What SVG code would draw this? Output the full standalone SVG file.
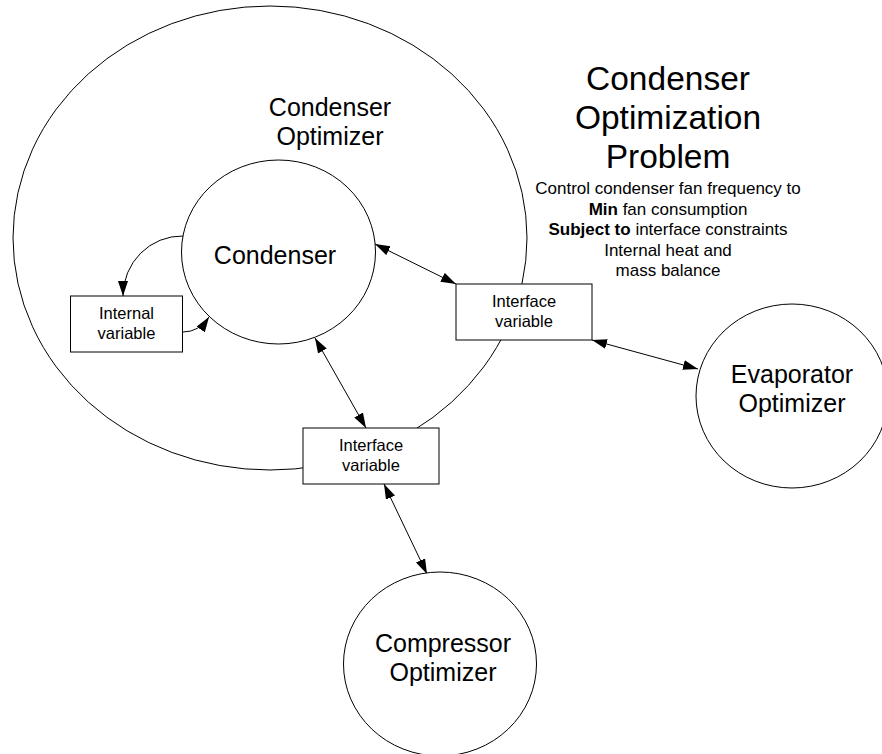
<svg xmlns="http://www.w3.org/2000/svg" width="882" height="754" viewBox="0 0 882 754">
  <style>
    .shape { fill: #fff; stroke: #000; stroke-width: 1; }
    .outline { fill: none; stroke: #000; stroke-width: 1; }
    .link { fill: none; stroke: #000; stroke-width: 1; }
    .big { font-family: "Liberation Sans", Arial, sans-serif; font-size: 25px; fill: #000; text-anchor: middle; }
    .title { font-family: "Liberation Sans", Arial, sans-serif; font-size: 33.5px; fill: #000; text-anchor: middle; }
    .note { font-family: "Liberation Sans", Arial, sans-serif; font-size: 17px; fill: #000; text-anchor: middle; }
    .box { font-family: "Liberation Sans", Arial, sans-serif; font-size: 16.5px; fill: #000; text-anchor: middle; }
    .b { font-weight: bold; }
  </style>
  <defs>
    <marker id="arrow" markerUnits="userSpaceOnUse" markerWidth="16" markerHeight="11" refX="15" refY="5" orient="auto-start-reverse">
      <path d="M0,0 L15,5 L0,10 Z" fill="#000"/>
    </marker>
  </defs>

  <rect width="882" height="754" fill="#fff"/>

  <!-- Condenser optimizer boundary -->
  <g id="condenser-optimizer">
    <ellipse class="outline" cx="270" cy="238" rx="257" ry="232"/>
    <text class="big" x="330" y="116">Condenser</text>
    <text class="big" x="330" y="145">Optimizer</text>
  </g>

  <!-- Connectors -->
  <g id="connectors">
    <path class="link" d="M183,236 A59,60 0 0 0 123,296" marker-end="url(#arrow)"/>
    <path class="link" d="M183,332 Q199,332 209,317" marker-end="url(#arrow)"/>
    <line class="link" x1="375" y1="244" x2="456" y2="284" marker-start="url(#arrow)" marker-end="url(#arrow)"/>
    <line class="link" x1="592" y1="340" x2="698" y2="369" marker-start="url(#arrow)" marker-end="url(#arrow)"/>
    <line class="link" x1="315" y1="338" x2="366" y2="428" marker-start="url(#arrow)" marker-end="url(#arrow)"/>
    <line class="link" x1="384" y1="484" x2="427" y2="574" marker-start="url(#arrow)" marker-end="url(#arrow)"/>
  </g>

  <g id="condenser">
    <ellipse class="outline" cx="278.5" cy="252" rx="97" ry="92"/>
    <text class="big" x="275" y="264">Condenser</text>
  </g>

  <g id="internal-variable">
    <rect class="shape" x="70.5" y="296" width="112" height="56"/>
    <text class="box" x="126.5" y="319">Internal</text>
    <text class="box" x="126.5" y="339">variable</text>
  </g>

  <g id="interface-variable-evaporator">
    <rect class="shape" x="456" y="284" width="136" height="56"/>
    <text class="box" x="524" y="307">Interface</text>
    <text class="box" x="524" y="327">variable</text>
  </g>

  <g id="interface-variable-compressor">
    <rect class="shape" x="303" y="428" width="136" height="56"/>
    <text class="box" x="371" y="451">Interface</text>
    <text class="box" x="371" y="471">variable</text>
  </g>

  <g id="evaporator-optimizer">
    <ellipse class="shape" cx="792" cy="396" rx="96" ry="92"/>
    <text class="big" x="792" y="383">Evaporator</text>
    <text class="big" x="792" y="412">Optimizer</text>
  </g>

  <g id="compressor-optimizer">
    <ellipse class="shape" cx="440" cy="664" rx="96.5" ry="92"/>
    <text class="big" x="443" y="652">Compressor</text>
    <text class="big" x="443" y="681">Optimizer</text>
  </g>

  <!-- Problem statement -->
  <g id="problem-statement">
    <text class="title" x="668" y="90">Condenser</text>
    <text class="title" x="668" y="129">Optimization</text>
    <text class="title" x="668" y="168">Problem</text>
    <text class="note" x="668" y="194">Control condenser fan frequency to</text>
    <text class="note" x="668" y="215"><tspan class="b">Min</tspan> fan consumption</text>
    <text class="note" x="668" y="235"><tspan class="b">Subject to</tspan> interface constraints</text>
    <text class="note" x="668" y="256">Internal heat and</text>
    <text class="note" x="668" y="276">mass balance</text>
  </g>
</svg>
